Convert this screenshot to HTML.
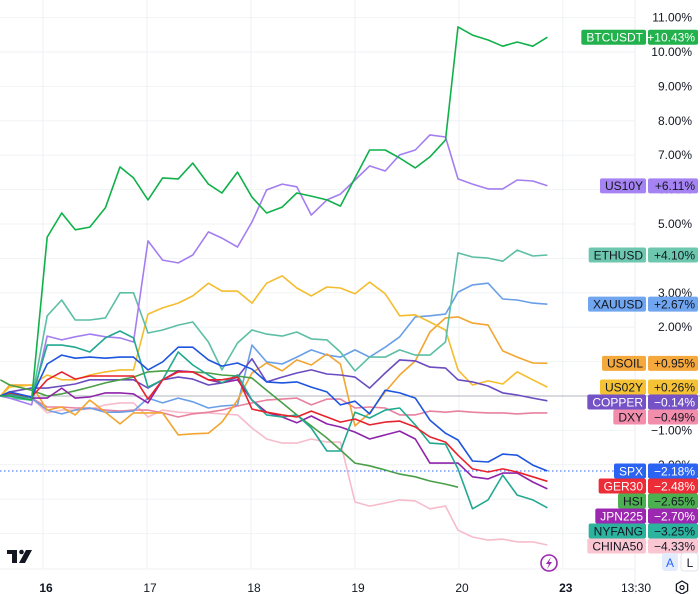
<!DOCTYPE html>
<html><head><meta charset="utf-8">
<style>
html,body{margin:0;padding:0;background:#fff;}
svg{display:block;font-family:"Liberation Sans",sans-serif;}
</style></head>
<body>
<svg id="chart" width="700" height="594" viewBox="0 0 700 594">
  <g id="grid"></g>
  <g id="yaxis"></g>
  <g id="xaxis"></g>
  <g id="series"></g>
  <g id="labels"></g>
  <g fill="#131722">
    <rect x="7" y="550" width="10" height="4"/>
    <rect x="12" y="550" width="5" height="13"/>
    <circle cx="21.5" cy="552" r="2.3"/>
    <polygon points="26,550 32,550 25,563 19,563"/>
  </g>
  <g>
    <circle cx="549" cy="563" r="8" fill="none" stroke="#9c27b0" stroke-width="1.6"/>
    <path d="M551,557 L546,564 L549,564 L547,569 L552,562 L549,562 Z" fill="#9c27b0"/>
  </g>
  <g>
    <rect x="662" y="553" width="16" height="18" rx="3" fill="#e3ecfb"/>
    <text x="670" y="567" font-size="12" fill="#2962ff" text-anchor="middle">A</text>
  </g>
  <g>
    <rect x="681" y="553" width="17" height="18" rx="3" fill="#fff" stroke="#e0e3eb"/>
    <text x="690" y="567" font-size="12" fill="#131722" text-anchor="middle">L</text>
  </g>
  <g>
    <polygon points="682,581.5 687.6,584.75 687.6,591.25 682,594.5 676.4,591.25 676.4,584.75" fill="none" stroke="#131722" stroke-width="1.3" transform="translate(0,-0.5)"/>
    <circle cx="682" cy="587.5" r="2" fill="none" stroke="#131722" stroke-width="1.2"/>
  </g>
</svg>
<script>
const times=[15.59,15.68,15.89,16.04,16.18,16.31,16.45,16.60,16.74,16.87,17.01,17.15,17.30,17.44,17.59,17.72,17.87,18.01,18.15,18.30,18.44,18.58,18.73,18.86,19.00,19.14,19.29,19.43,19.58,19.72,19.87,19.99,20.13,20.28,20.42,20.56,20.71,20.85];
const btcusdt=[0,0,-0.12,4.62,5.32,4.83,4.91,5.47,6.66,6.34,5.70,6.34,6.31,6.77,6.16,5.90,6.51,5.78,5.32,5.49,5.90,5.81,5.70,5.52,6.34,7.15,7.15,6.92,6.63,6.95,7.44,10.73,10.49,10.35,10.17,10.29,10.17,10.43];
const us10y=[0,-0.06,-0.26,1.74,1.63,1.72,1.80,1.72,1.69,1.57,4.51,3.95,3.87,4.10,4.77,4.59,4.33,5.06,5.99,6.16,6.08,5.26,5.70,5.87,6.28,6.69,6.54,7.01,7.15,7.59,7.53,6.31,6.16,6.02,6.02,6.28,6.25,6.11];
const ethusd=[0,-0.06,-0.12,2.33,2.79,2.21,2.21,2.27,3.0,3.0,1.83,1.92,2.06,2.15,1.57,0.76,1.54,1.92,1.80,1.74,1.86,1.66,1.63,1.28,0.73,1.13,1.13,1.34,1.19,1.19,1.57,4.16,4.04,4.01,3.92,4.24,4.07,4.10];
const xauusd=[0,0.03,-0.06,-0.41,-0.52,-0.41,-0.35,-0.47,-0.47,-0.44,-0.06,-0.20,-0.06,-0.17,-0.35,-0.29,-0.26,1.48,0.99,0.93,1.13,1.34,1.19,1.13,1.34,1.13,1.42,1.72,2.30,2.33,2.38,3.02,3.23,3.28,2.82,2.79,2.70,2.67];
const usoil=[0,0.32,0.32,-0.41,-0.32,-0.55,-0.12,-0.47,-0.81,-0.49,-0.49,-0.49,-1.13,-1.10,-1.08,-0.76,-0.12,0.67,0.96,0.73,1.05,0.90,1.22,0.93,-0.87,-0.49,0.12,0.61,1.02,1.86,2.27,2.30,2.12,2.06,1.31,1.13,0.96,0.95];
const us02y=[0,0.26,0.32,0.61,0.47,0.47,0.61,0.70,0.76,0.76,2.38,2.56,2.70,2.91,3.28,3.05,3.05,2.70,3.28,3.49,3.14,2.91,3.17,3.14,2.97,3.31,2.97,2.33,2.36,2.15,1.92,0.76,0.32,0.44,0.35,0.70,0.47,0.26];
const copper=[0,0.12,0.23,0.23,0.29,0.35,0.47,0.47,0.47,0.47,0.23,0.47,0.55,0.49,0.32,0.38,0.55,1.08,0.41,0.55,0.67,0.76,0.64,0.61,0.55,0.23,0.67,1.05,1.02,0.84,0.81,0.47,0.41,0.29,0.09,0.03,-0.06,-0.14];
const dxy=[0,0,-0.06,-0.32,-0.32,-0.35,-0.35,-0.41,-0.44,-0.41,-0.41,-0.49,-0.61,-0.52,-0.47,-0.41,-0.29,-0.20,-0.12,-0.09,-0.06,-0.26,-0.09,-0.09,-0.35,-0.32,-0.35,-0.55,-0.55,-0.44,-0.47,-0.44,-0.47,-0.49,-0.49,-0.52,-0.49,-0.49];
const spx=[0,0.12,-0.03,0.93,1.19,1.10,1.13,1.10,1.13,1.13,0.76,0.99,1.42,1.42,1.05,0.87,0.96,0.78,0.41,0.38,0.41,0.26,0.12,-0.26,-0.15,-0.52,0.17,0.09,-0.06,-0.70,-1.08,-1.28,-1.89,-1.92,-1.69,-1.72,-2.01,-2.18];
const ger30=[0,0.09,-0.03,0.47,0.70,0.49,0.58,0.58,0.58,0.58,-0.09,0.47,0.70,0.70,0.47,0.47,0.55,-0.38,-0.47,-0.55,-0.61,-0.44,-0.61,-0.76,-0.67,-0.84,-0.76,-0.73,-0.90,-1.19,-1.34,-1.72,-2.12,-2.21,-2.12,-2.21,-2.35,-2.48];
const hsi=[0.47,0.32,0.17,0,0.06,0.15,0.26,0.38,0.47,0.55,0.70,0.73,0.73,0.70,0.67,0.61,0.58,0.52,0.17,-0.20,-0.55,-0.87,-1.22,-1.57,-1.95,-2.03,-2.15,-2.27,-2.35,-2.47,-2.56,-2.65,null,null,null,null,null,null];
const jpn225=[0,0.06,-0.06,-0.06,0.23,-0.06,-0.03,0.09,0.09,0.06,-0.20,0.47,0.73,0.70,0.47,0.38,0.47,-0.12,-0.47,-0.61,-0.78,-0.58,-0.81,-0.90,-1.05,-1.25,-1.13,-1.02,-1.25,-1.95,-1.95,-1.95,-2.35,-2.41,-2.24,-2.24,-2.50,-2.70];
const nyfang=[0,0.06,-0.06,1.48,1.48,1.42,1.28,1.69,1.89,1.69,0.26,0.47,1.28,0.90,0.61,0.38,0.61,-0.12,-0.55,-0.61,-0.55,-0.93,-1.60,-1.60,-0.47,-0.64,-0.41,-0.35,-0.84,-1.37,-1.40,-2.12,-3.28,-3.02,-2.30,-2.88,-3.02,-3.25];
const china50=[0,0,-0.06,-0.49,-0.41,-0.41,-0.38,-0.26,-0.20,-0.20,-0.61,-0.41,-0.47,-0.49,-0.49,-0.52,-0.55,-0.93,-1.25,-1.37,-1.37,-1.25,-1.34,-1.34,-3.08,-3.20,-3.11,-3.02,-3.05,-3.28,-3.20,-3.90,-4.10,-4.19,-4.16,-4.24,-4.24,-4.33];
const seriesNames=["BTCUSDT","US10Y","ETHUSD","XAUUSD","USOIL","US02Y","COPPER","DXY","SPX","GER30","HSI","JPN225","NYFANG","CHINA50"];
const yTicks=[11,10,9,8,7,6,5,4,3,2,1,0,-1,-2,-3,-4];
const xTickDays=[16,17,18,19,20,20.998];
const xTickLabels=["16","17","18","19","20","23"];

const NS="http://www.w3.org/2000/svg";
function xScale(d){return 43+(d-16)*104;}
function yScale(v){return 396-v*34.4;}
function mk(tag,attrs,parent){const e=document.createElementNS(NS,tag);for(const k in attrs)e.setAttribute(k,attrs[k]);parent.appendChild(e);return e;}

const seriesData=[btcusdt,us10y,ethusd,xauusd,usoil,us02y,copper,dxy,spx,ger30,hsi,jpn225,nyfang,china50];
const lineColors=["#10b04a","#a47ef0","#5cbfa5","#6a9fe8","#f2a531","#f5bd2e","#6a4cc0","#e8819e","#1e55de","#e8222d","#4a9f48","#8e24aa","#22a891","#f6bccb"];
const pillColors=["#22b14c","#a683f2","#6cc7ae","#70a5ef","#f5a83b","#f5c236","#7552c5","#f28dab","#2b63f2","#ec2c37","#4caf50","#9c27b0","#2bb39e","#fac6d2"];
const textColors=["#fff","#131722","#131722","#131722","#131722","#131722","#fff","#131722","#fff","#fff","#131722","#fff","#131722","#131722"];

const grid=document.getElementById('grid');
yTicks.forEach(v=>{
  const l=mk('line',{x1:0,x2:635,y1:yScale(v),y2:yScale(v),stroke:'#f0f2f5','stroke-width':1},grid);
  
  
});
xTickDays.forEach(d=>{
  const l=mk('line',{x1:xScale(d),x2:xScale(d),y1:0,y2:569,stroke:'#f0f2f5','stroke-width':1},grid);
  
  
});
mk('line',{x1:635,x2:635,y1:0,y2:594,stroke:'#eceef2','stroke-width':1},grid);
mk('line',{x1:0,x2:635,y1:569,y2:569,stroke:'#f0f2f5','stroke-width':1},grid);
const zl=mk('line',{x1:0,x2:700,y1:yScale(0),y2:yScale(0),stroke:'#b2b5be','stroke-width':1},grid);



const ya=document.getElementById('yaxis');
yTicks.forEach(v=>{
  const t=mk('text',{x:692,y:yScale(v)+4,'font-size':12,fill:'#131722','text-anchor':'end'},ya);
  t.textContent=(v<0?'\u2212'+Math.abs(v).toFixed(2):v.toFixed(2))+'%';
  
  
});
const xa=document.getElementById('xaxis');
xTickDays.forEach((d,i)=>{
  const t=mk('text',{x:xScale(d)+3,y:592,'font-size':12,fill:'#131722','text-anchor':'middle','font-weight':(i===0||i===5)?'bold':'normal'},xa);
  t.textContent=xTickLabels[i];
  
  
});
const tl=mk('text',{x:636,y:592,'font-size':12,fill:'#131722','text-anchor':'middle'},xa);
tl.textContent='13:30';



const spxLast=spx[spx.length-1];
const dl=mk('line',{x1:0,x2:700,y1:yScale(spxLast),y2:yScale(spxLast),stroke:'#2962ff','stroke-width':1,'stroke-dasharray':'1.5,2.5'},grid);



const sg=document.getElementById('series');
const drawOrder=[13,7,3,4,5,6,2,1,10,11,12,9,8,0];
drawOrder.forEach(i=>{
  const arr=seriesData[i];let d='';
  arr.forEach((v,j)=>{if(v===null)return;d+=(d?'L':'M')+xScale(times[j]).toFixed(1)+','+yScale(v).toFixed(1);});
  const p=mk('path',{d:d,fill:'none',stroke:lineColors[i],'stroke-width':1.6,'stroke-linejoin':'round'},sg);
  
  
});

const lg=document.getElementById('labels');
const lastVals=seriesData.map(a=>{for(let k=a.length-1;k>=0;k--)if(a[k]!==null)return a[k];});
const order=lastVals.map((v,i)=>i).sort((a,b)=>lastVals[b]-lastVals[a]);
const ys={};let prev=-1e9;
order.forEach(i=>{let y=yScale(lastVals[i]);if(y<prev+15)y=prev+15;ys[i]=y;prev=y;});
order.forEach(i=>{
  const y=ys[i];const name=seriesNames[i];
  const g=mk('g',{},lg);
  
  
  const r1=mk('rect',{x:600,y:y-7.5,width:46,height:15,rx:2,fill:pillColors[i]},g);
  mk('rect',{x:648,y:y-7.5,width:50,height:15,rx:2,fill:pillColors[i]},g);
  const t1=mk('text',{x:643,y:y+4.3,'font-size':12,fill:textColors[i],'text-anchor':'end'},g);
  t1.textContent=name;
  const w=t1.getComputedTextLength()+8;
  r1.setAttribute('x',646-w);r1.setAttribute('width',w);
  const v=lastVals[i];
  const t2=mk('text',{x:695,y:y+4.3,'font-size':12,fill:textColors[i],'text-anchor':'end'},g);
  t2.textContent=(v>=0?'+':'\u2212')+Math.abs(v).toFixed(2)+'%';
});
</script>
</body></html>
